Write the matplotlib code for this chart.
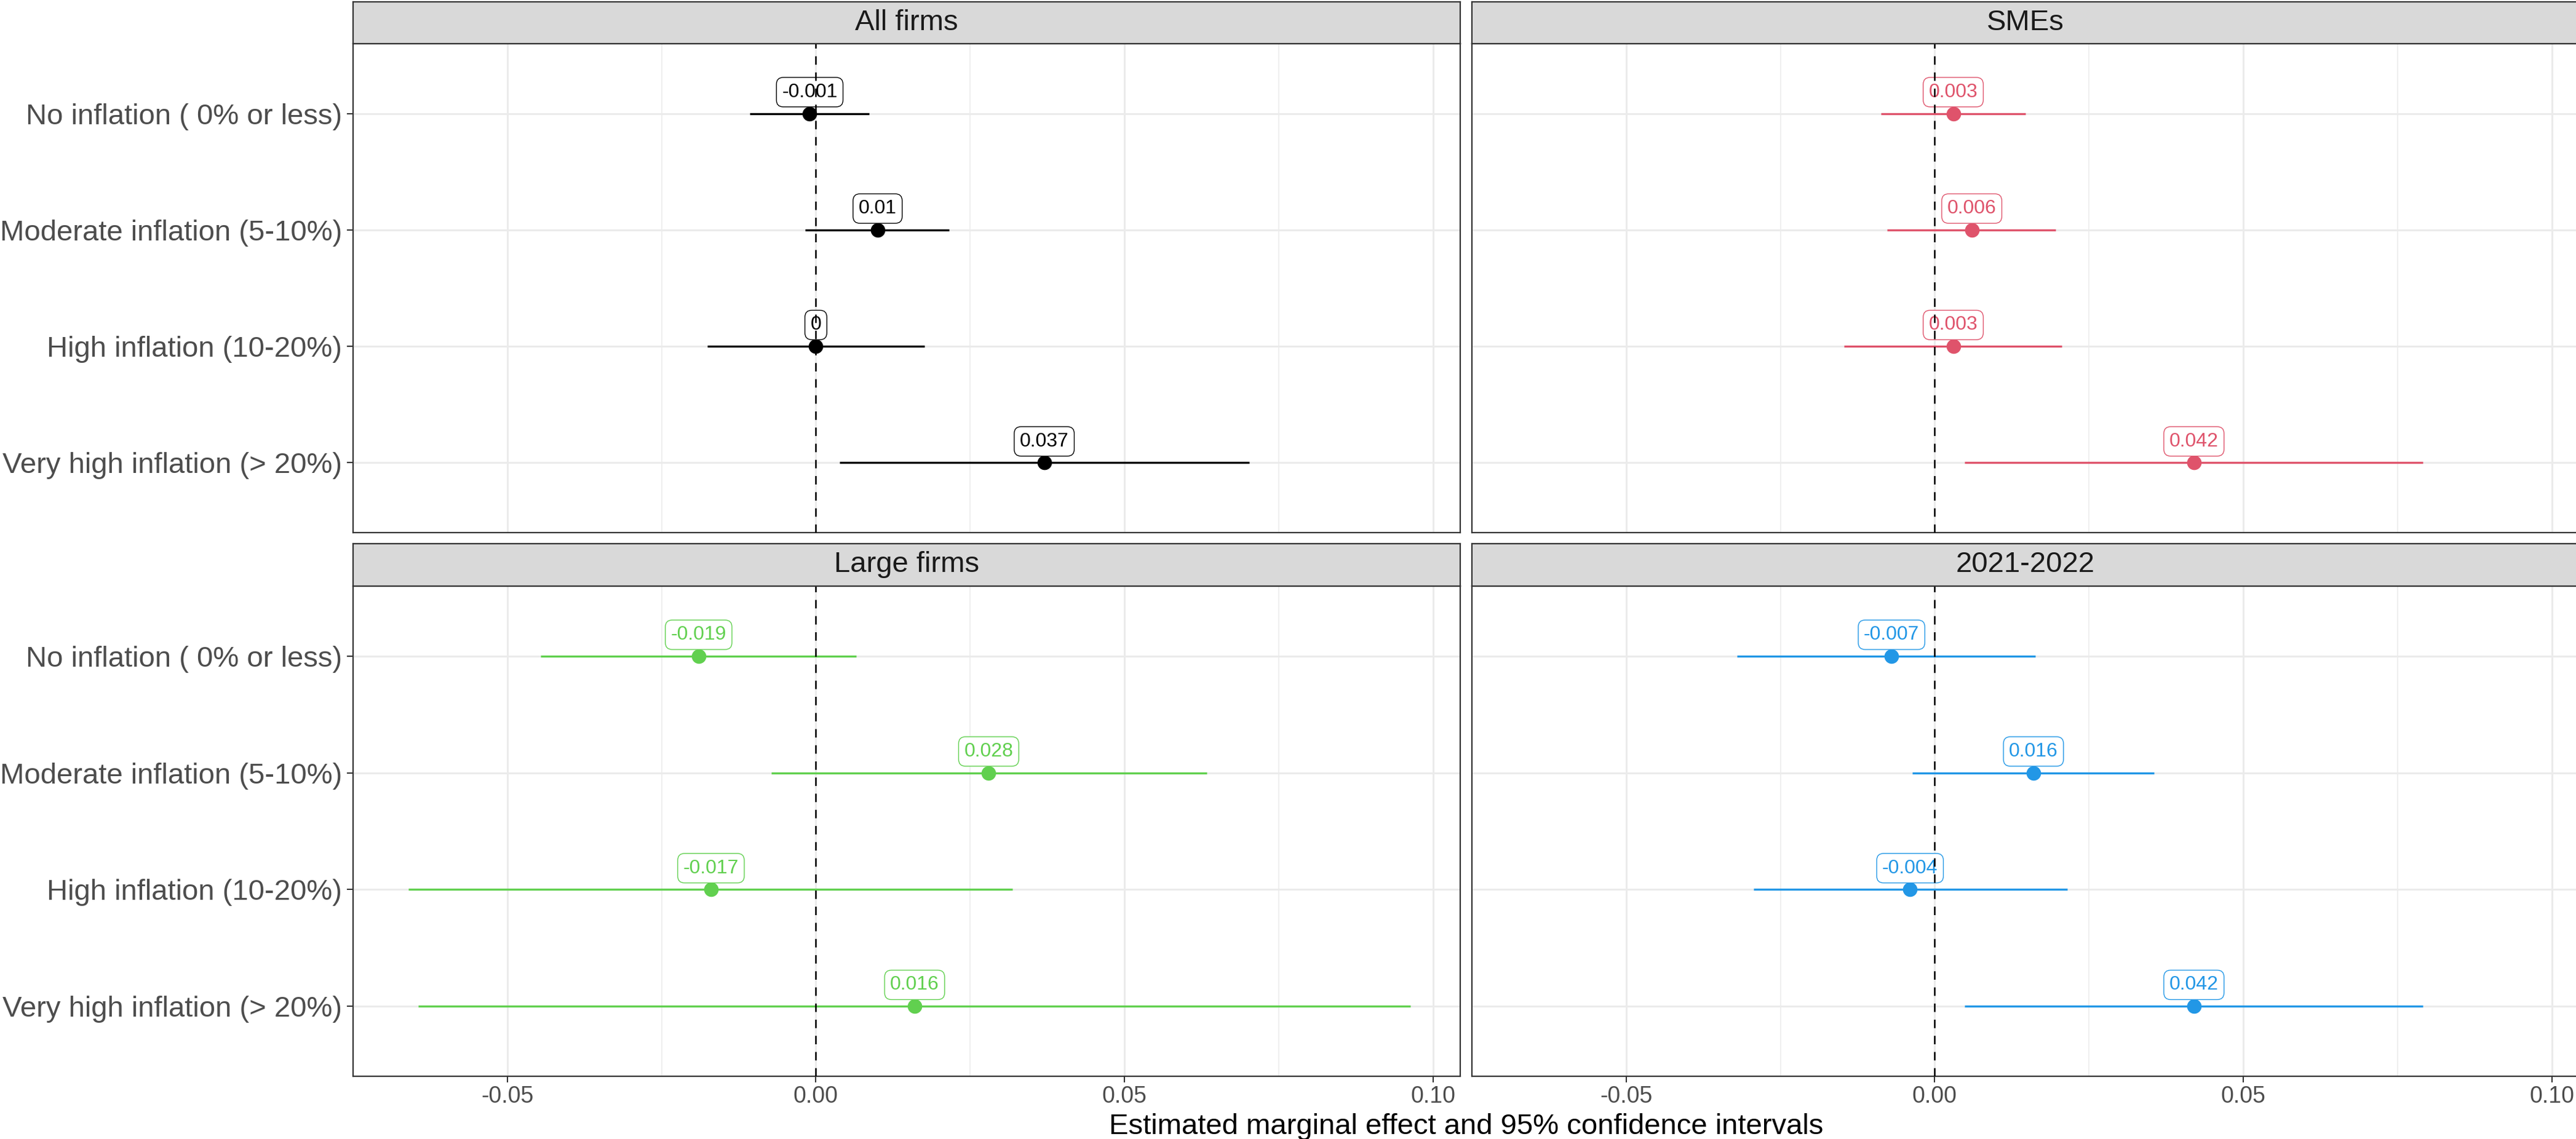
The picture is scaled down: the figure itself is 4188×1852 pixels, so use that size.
import matplotlib
matplotlib.use("Agg")
import matplotlib.pyplot as plt

plt.rcParams["font.family"] = ["Liberation Sans", "DejaVu Sans"]

# categories (top to bottom) and facet names
categories = [
    "No inflation ( 0% or less)",
    "Moderate inflation (5-10%)",
    "High inflation (10-20%)",
    "Very high inflation (> 20%)",
]
panels = ["All firms", "SMEs", "Large firms", "2021-2022"]
colors = ["black", "#DF536B", "#61D04F", "#2297E6"]

# marginal effects with 95% CI bounds, one set per facet
est_all = [-0.001, 0.01, 0.0, 0.037]
low_all = [-0.0107, -0.0017, -0.0176, 0.0038]
high_all = [0.0086, 0.0216, 0.0176, 0.0702]

est_sme = [0.003, 0.006, 0.003, 0.042]
low_sme = [-0.0087, -0.0077, -0.0147, 0.0048]
high_sme = [0.0147, 0.0196, 0.0206, 0.0791]

est_large = [-0.019, 0.028, -0.017, 0.016]
low_large = [-0.0446, -0.0072, -0.0660, -0.0644]
high_large = [0.0065, 0.0633, 0.0319, 0.0963]

est_recent = [-0.007, 0.016, -0.004, 0.042]
low_recent = [-0.0320, -0.0036, -0.0293, 0.0048]
high_recent = [0.0163, 0.0355, 0.0215, 0.0791]

estimates = [est_all, est_sme, est_large, est_recent]
lows = [low_all, low_sme, low_large, low_recent]
highs = [high_all, high_sme, high_large, high_recent]

# shared x scale with 5% expansion like ggplot
xmin = min(min(l) for l in lows)
xmax = max(max(h) for h in highs)
xpad = 0.05 * (xmax - xmin)
xlim = (xmin - xpad, xmax + xpad)

W, H = 4188, 1852
fig = plt.figure(figsize=(W / 100, H / 100), dpi=100)


def box(x0, y0, x1, y1):
    return [x0 / W, 1 - y1 / H, (x1 - x0) / W, (y1 - y0) / H]


col_x = [(574, 2374), (2393, 4193)]
panel_y = [(71, 866), (953, 1750)]
strip_y = [(3, 71), (884, 953)]
edge = "#333333"
ypos = list(range(1, len(categories) + 1))

for i, name in enumerate(panels):
    r, c = divmod(i, 2)
    x0, x1 = col_x[c]
    ax = fig.add_axes(box(x0, panel_y[r][0], x1, panel_y[r][1]))
    col = colors[i]

    ax.set_xlim(xlim)
    ax.set_ylim(len(categories) + 0.6, 0.4)
    ax.set_xticks([-0.05, 0.0, 0.05, 0.10])
    ax.set_xticks([-0.075, -0.025, 0.025, 0.075], minor=True)
    ax.set_xticklabels(["-0.05", "0.00", "0.05", "0.10"])
    ax.set_yticks(ypos)
    ax.set_yticklabels(categories)
    ax.grid(which="major", color="#EBEBEB", lw=2.2)
    ax.grid(which="minor", axis="x", color="#EBEBEB", lw=1.1)
    ax.set_axisbelow(True)
    for s in ax.spines.values():
        s.set_color(edge)
        s.set_linewidth(1.6)
    ax.tick_params(which="major", length=7, width=1.5, color=edge,
                   labelcolor="#4D4D4D")
    ax.tick_params(which="minor", length=0)
    ax.tick_params(axis="y", labelsize=34, pad=6)
    ax.tick_params(axis="x", labelsize=27, pad=4)
    if r == 0:
        ax.tick_params(axis="x", bottom=False, labelbottom=False)
    if c == 1:
        ax.tick_params(axis="y", left=False, labelleft=False)

    ax.hlines(ypos, lows[i], highs[i], color=col, lw=2.4, zorder=2)
    ax.plot(estimates[i], ypos, "o", ms=16, color=col, mec=col, zorder=3)
    for e, y in zip(estimates[i], ypos):
        ax.annotate("{:g}".format(e), (e, y), xytext=(0, 25),
                    textcoords="offset points", ha="center", va="center",
                    fontsize=23, color=col, zorder=4,
                    bbox=dict(boxstyle="round,pad=0.28,rounding_size=0.35",
                              fc="white", ec=col, lw=1.0))
    ax.axvline(0, color="black", lw=1.8, ls=(0, (5.5, 5)), zorder=5)

    # facet strip
    sax = fig.add_axes(box(x0, strip_y[r][0], x1, strip_y[r][1]))
    sax.set_facecolor("#D9D9D9")
    sax.set_xticks([])
    sax.set_yticks([])
    for s in sax.spines.values():
        s.set_color(edge)
        s.set_linewidth(1.6)
    sax.text(0.5, 0.5, name, ha="center", va="center", fontsize=34,
             color="#1A1A1A", transform=sax.transAxes)

fig.text((col_x[0][0] + col_x[1][1]) / 2 / W, 1 - 1844 / H,
         "Estimated marginal effect and 95% confidence intervals",
         ha="center", va="baseline", fontsize=34, color="black")

fig.savefig("out.png", dpi=100, facecolor="white")
